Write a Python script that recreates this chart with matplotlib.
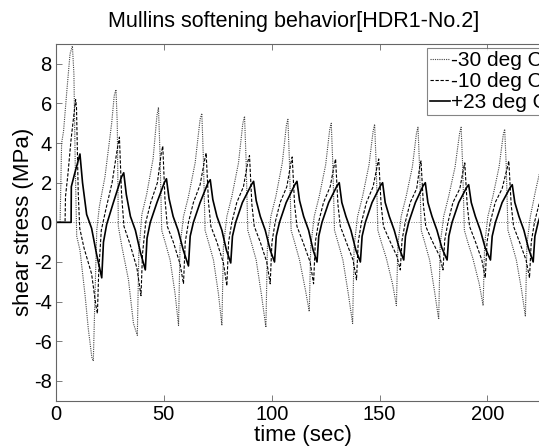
import matplotlib
matplotlib.use('Agg')
import matplotlib.pyplot as plt
import numpy as np

# (time sec, shear stress MPa)
m30 = np.array([
    (0, 0), (1.9, 0), (2.6, 4.0), (3.5, 4.6), (5.0, 6.6), (6.5, 8.5), (7.6, 8.9),
    (8.3, 7.5), (8.9, 3.0), (9.6, -0.7), (11.1, -1.4), (13.5, -3.7), (15.0, -5.4), (16.6, -6.8), (17.3, -7.0),
    (18.0, -4.0), (18.9, -0.4), (20.1, 0.8), (22.7, 2.3), (25.8, 5.0), (27.0, 6.4), (27.8, 6.7),
    (28.4, 5.0), (28.9, -0.2), (30.5, -1.2), (33.6, -2.9), (35.9, -5.1), (37.7, -5.7),
    (38.4, -1.5), (39.8, 0.4), (42.0, 1.4), (45.0, 3.2), (46.8, 5.4), (47.5, 5.8),
    (48.2, 3.5), (49.0, -0.4), (50.6, -1.0), (52.9, -1.9), (55.2, -3.6), (56.8, -5.2),
    (57.5, -1.2), (59.1, 0.3), (61.4, 1.3), (64.5, 3.0), (66.8, 5.2), (67.6, 5.5),
    (68.3, 3.3), (69.1, -0.4), (70.7, -1.0), (73.0, -1.9), (75.3, -3.6), (76.9, -5.2),
    (77.6, -1.2), (79.2, 0.3), (81.5, 1.3), (84.6, 3.0), (86.6, 5.0), (87.4, 5.35),
    (88.1, 3.2), (88.9, -0.4), (90.5, -1.0), (92.8, -1.9), (95.3, -3.7), (97.3, -5.3),
    (98.0, -1.2), (99.6, 0.3), (101.9, 1.3), (104.9, 3.0), (106.8, 4.9), (107.5, 5.2),
    (108.2, 3.1), (109.0, -0.4), (110.6, -1.0), (112.9, -1.9), (115.6, -3.4), (117.4, -4.5),
    (118.1, -1.2), (119.7, 0.3), (122.0, 1.3), (125.0, 2.9), (126.9, 4.7), (127.6, 5.0),
    (128.3, 3.0), (129.1, -0.4), (130.7, -1.0), (133.0, -1.9), (135.5, -3.6), (137.5, -5.1),
    (138.2, -1.2), (139.8, 0.3), (142.1, 1.3), (145.1, 2.9), (147.0, 4.6), (147.7, 4.95),
    (148.4, 3.0), (149.2, -0.4), (150.8, -1.0), (153.1, -1.8), (156.0, -3.1), (157.8, -4.2),
    (158.5, -1.1), (160.0, 0.3), (162.3, 1.3), (165.2, 2.8), (167.1, 4.5), (167.8, 4.8),
    (168.5, 2.9), (169.3, -0.4), (170.9, -1.0), (173.2, -1.9), (175.5, -3.5), (177.4, -4.9),
    (178.1, -1.1), (179.7, 0.3), (182.0, 1.3), (185.0, 2.8), (187.1, 4.5), (187.8, 4.8),
    (188.5, 2.9), (189.3, -0.4), (190.9, -1.0), (193.2, -1.8), (196.2, -3.1), (198.0, -4.2),
    (198.7, -1.1), (200.2, 0.3), (202.5, 1.3), (205.4, 2.8), (207.3, 4.4), (208.0, 4.7),
    (208.7, 2.9), (209.5, -0.4), (211.1, -1.0), (213.4, -1.9), (215.8, -3.4), (217.6, -4.75),
    (218.3, -1.1), (219.9, 0.3), (222.3, 1.6), (225.0, 2.9), (227.0, 4.4),
])

m10 = np.array([
    (0, 0), (4.2, 0), (4.4, 1.3), (5.5, 2.4), (7.0, 4.2), (8.5, 5.6), (9.1, 6.2),
    (9.5, 5.8), (10.3, 1.5), (11.0, -0.3), (13.0, -1.3), (16.5, -2.6), (18.5, -4.2), (19.2, -4.6),
    (19.8, -2.5), (21.0, -0.4), (23.0, 0.6), (26.0, 2.0), (28.4, 3.7), (29.4, 4.3),
    (30.4, 1.4), (31.5, -0.2), (34.3, -1.1), (37.5, -2.3), (39.4, -3.7),
    (40.1, -1.6), (41.6, 0.0), (43.9, 1.0), (47.0, 2.0), (48.8, 3.5), (49.5, 3.85),
    (50.5, 1.2), (51.6, -0.2), (54.4, -1.0), (57.5, -2.1), (59.1, -3.1),
    (59.9, -1.0), (61.4, 0.0), (63.7, 1.0), (66.8, 1.9), (69.0, 3.2), (69.6, 3.5),
    (70.7, 1.0), (71.8, -0.2), (74.6, -1.0), (77.6, -2.05), (79.2, -3.2),
    (80.0, -1.0), (81.5, 0.0), (83.8, 1.0), (86.9, 1.8), (89.0, 3.1), (89.7, 3.37),
    (90.8, 0.9), (91.9, -0.2), (94.7, -1.0), (97.7, -2.0), (99.3, -3.1),
    (100.1, -1.0), (101.6, 0.0), (103.9, 1.0), (107.0, 1.8), (108.9, 3.0), (109.5, 3.3),
    (110.6, 0.9), (111.7, -0.2), (114.5, -1.0), (117.8, -2.0), (119.4, -3.1),
    (120.2, -1.0), (121.7, 0.0), (124.0, 1.0), (127.1, 1.8), (129.0, 2.9), (129.6, 3.2),
    (130.7, 0.9), (131.8, -0.2), (134.6, -1.0), (137.7, -1.9), (139.3, -2.9),
    (140.1, -1.0), (141.6, 0.0), (143.9, 1.0), (147.0, 1.8), (149.0, 2.9), (149.6, 3.2),
    (150.7, 0.9), (151.8, -0.2), (154.6, -0.9), (158.0, -1.7), (159.6, -2.4),
    (160.4, -0.9), (161.9, 0.0), (164.2, 1.0), (167.2, 1.7), (168.6, 2.8), (169.2, 3.1),
    (170.3, 0.9), (171.4, -0.2), (174.2, -0.9), (177.8, -1.7), (179.4, -2.4),
    (180.2, -0.9), (181.7, 0.0), (184.0, 1.0), (187.2, 1.7), (188.9, 2.7), (189.5, 3.0),
    (190.6, 0.9), (191.7, -0.2), (194.5, -1.0), (197.4, -1.9), (199.0, -2.8),
    (199.8, -1.0), (201.3, 0.0), (203.6, 1.0), (206.8, 1.7), (209.3, 2.8), (209.9, 3.1),
    (211.0, 0.9), (212.1, -0.2), (214.9, -1.0), (217.9, -1.9), (219.5, -2.8),
    (220.3, -1.0), (221.8, 0.0), (224.1, 1.0), (227.0, 1.8),
])

p23 = np.array([
    (0, 0), (7.0, 0), (7.1, 1.8), (8.5, 2.4), (10.0, 3.0), (11.1, 3.45),
    (12.3, 2.0), (14.2, 0.4), (16.5, -0.3), (18.8, -1.6), (21.2, -2.8),
    (22.0, -1.0), (23.5, -0.1), (26.6, 1.0), (30.4, 2.3), (31.4, 2.5),
    (32.6, 1.4), (34.5, 0.3), (36.8, -0.4), (39.1, -1.5), (41.4, -2.4),
    (42.2, -0.8), (43.7, 0.0), (46.8, 1.0), (50.2, 2.0), (51.2, 2.2),
    (52.4, 1.2), (54.3, 0.3), (56.6, -0.4), (59.0, -1.4), (61.4, -2.2),
    (62.2, -0.7), (63.7, 0.0), (66.8, 1.0), (70.5, 2.0), (71.5, 2.15),
    (72.7, 1.15), (74.6, 0.3), (76.9, -0.4), (79.0, -1.4), (81.0, -2.05),
    (81.8, -0.7), (83.3, 0.0), (86.4, 1.0), (90.6, 1.9), (91.6, 2.07),
    (92.8, 1.1), (94.7, 0.3), (97.0, -0.4), (99.3, -1.4), (101.3, -2.0),
    (102.1, -0.7), (103.6, 0.0), (106.7, 1.0), (110.7, 1.9), (111.7, 2.07),
    (112.9, 1.1), (114.8, 0.3), (117.1, -0.4), (119.2, -1.4), (121.0, -2.0),
    (121.8, -0.7), (123.3, 0.0), (126.4, 1.0), (130.3, 1.85), (131.3, 2.0),
    (132.5, 1.0), (134.4, 0.3), (136.7, -0.4), (139.0, -1.4), (141.1, -2.0),
    (141.9, -0.7), (143.4, 0.0), (146.5, 1.0), (150.4, 1.85), (151.4, 2.0),
    (152.6, 1.0), (154.5, 0.3), (156.8, -0.4), (159.1, -1.3), (161.2, -1.9),
    (162.0, -0.7), (163.5, 0.0), (166.6, 1.0), (170.2, 1.85), (171.2, 2.0),
    (172.4, 1.0), (174.3, 0.3), (176.6, -0.4), (178.9, -1.3), (181.3, -1.9),
    (182.1, -0.7), (183.6, 0.0), (186.7, 1.0), (190.3, 1.75), (191.3, 1.9),
    (192.5, 1.0), (194.4, 0.3), (196.7, -0.4), (199.0, -1.3), (201.4, -1.9),
    (202.2, -0.7), (203.7, 0.0), (206.8, 1.0), (210.5, 1.75), (211.5, 1.9),
    (212.7, 1.0), (214.6, 0.3), (216.9, -0.4), (219.0, -1.3), (221.2, -2.0),
    (222.0, -0.7), (223.5, 0.0), (226.6, 1.0),
])

labels = ['-30 deg C', '-10 deg C', '+23 deg C']
xticks = [0, 50, 100, 150, 200]
yticks = [-8, -6, -4, -2, 0, 2, 4, 6, 8]

plt.rcParams['font.family'] = ['Liberation Sans', 'DejaVu Sans']
plt.rcParams['axes.unicode_minus'] = False

fig = plt.figure(figsize=(5.39, 4.47), dpi=100)
ax = fig.add_axes([56 / 539, 46.3 / 447, 494 / 539, 356.7 / 447])

ax.axhline(0, color='#777777', lw=0.7, ls=(0, (1, 1.5)), zorder=1)
ax.plot(m30[:, 0], m30[:, 1], color='#444444', lw=0.8, ls=(0, (1, 1)), label=labels[0])
ax.plot(m10[:, 0], m10[:, 1], color='black', lw=0.8, ls=(0, (3, 1.5)), label=labels[1])
ax.plot(p23[:, 0], p23[:, 1], color='black', lw=1.2, ls='-', label=labels[2])

ax.set_xlim(0, 229)
ax.set_ylim(-9, 9)
ax.set_xticks(xticks)
ax.set_yticks(yticks)
ax.tick_params(direction='in', top=True, right=True, length=4, width=0.6,
               color='#666666', labelsize=14.5, pad=3)
for sp in ax.spines.values():
    sp.set_color('#666666')
    sp.set_linewidth(0.8)

ax.set_xlabel('time (sec)', fontsize=16, labelpad=1)
ax.set_ylabel('shear stress (MPa)', fontsize=16, labelpad=0)
fig.text(294 / 539, 1 - 22 / 447, 'Mullins softening behavior[HDR1-No.2]',
         ha='center', va='center', fontsize=15.5)

leg = ax.legend(loc='upper left', bbox_to_anchor=((427 - 56) / 494, (400.7 - 47.7) / 356.7),
                borderaxespad=0, fontsize=15, handlelength=0.95, handletextpad=0.05,
                labelspacing=0.1, borderpad=0.15, fancybox=False, frameon=True)
leg.get_frame().set_edgecolor('#666666')
leg.get_frame().set_linewidth(0.8)

fig.savefig('out.png', dpi=100)
